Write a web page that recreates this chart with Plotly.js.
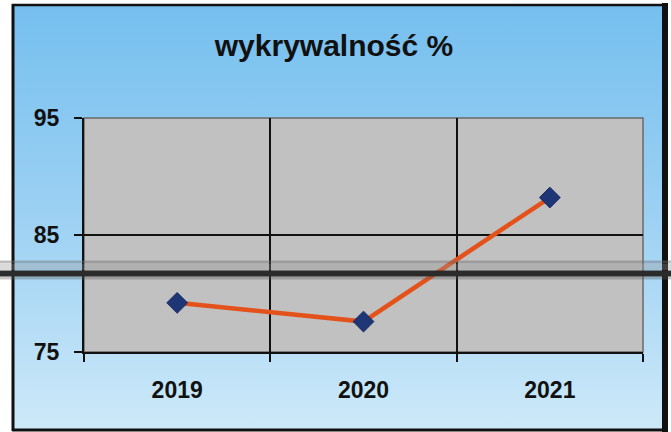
<!DOCTYPE html>
<html>
<head>
<meta charset="utf-8">
<script src="https://cdn.plot.ly/plotly-3.0.1.min.js"></script>
<style>html,body{margin:0;padding:0;background:#fff;}#chart{width:671px;height:432px;}</style>
</head>
<body>
<div id="chart"></div>
<script>
// Data
const years = ['2019', '2020', '2021'];
const detectionRate = [79.2, 77.6, 88.2];
const yTickVals = [75, 85, 95];
const chartTitle = 'wykrywalność %';

// pixel -> paper helpers (plot area: x 84..643, y 118..352)
const L = 84, R = 643, T = 118, B = 352;
const px = v => (v - L) / (R - L);
const py = v => (B - v) / (B - T);

const gradSvg = '<svg xmlns="http://www.w3.org/2000/svg" width="100" height="100" preserveAspectRatio="none">' +
  '<defs><linearGradient id="g" x1="0" y1="0" x2="0" y2="1">' +
  '<stop offset="0" stop-color="#75bfef"/><stop offset="0.5" stop-color="#9dd1f3"/><stop offset="1" stop-color="#cde9f9"/>' +
  '</linearGradient></defs><rect width="100" height="100" fill="url(#g)"/></svg>';
const gradUri = 'data:image/svg+xml;charset=utf-8,' + encodeURIComponent(gradSvg);

const trace = {
  type: 'scatter',
  mode: 'lines+markers',
  x: years,
  y: detectionRate,
  line: {color: '#e4521c', width: 4.5},
  marker: {symbol: 'diamond', size: 16, color: '#1f3676', line: {color: '#1a2d63', width: 1}},
  hoverinfo: 'x+y',
  showlegend: false
};

const tickFont = {family: '"Liberation Sans", Arial, sans-serif', size: 23, color: '#111', weight: 'bold'};

const layout = {
  width: 671,
  height: 432,
  margin: {l: L, r: 671 - R, t: T, b: 432 - B, pad: 0},
  paper_bgcolor: '#ffffff',
  plot_bgcolor: 'rgba(0,0,0,0)',
  title: {
    text: '<b>' + chartTitle + '</b>',
    font: {family: '"Liberation Sans", Arial, sans-serif', size: 30, color: '#111'},
    xref: 'container', yref: 'container',
    x: 334 / 671, y: 1 - 45 / 432, xanchor: 'center', yanchor: 'middle'
  },
  xaxis: {
    type: 'category',
    categoryorder: 'array',
    categoryarray: years,
    range: [-0.5, 2.5],
    tickson: 'boundaries',
    showgrid: true,
    gridcolor: '#111',
    gridwidth: 2,
    ticks: 'outside',
    ticklen: 8,
    tickwidth: 2,
    tickcolor: '#111',
    showline: true,
    linecolor: '#111',
    linewidth: 2,
    tickfont: tickFont,
    ticklabelstandoff: 16,
    zeroline: false,
    fixedrange: true
  },
  yaxis: {
    range: [75, 95],
    tickvals: yTickVals,
    ticktext: yTickVals.map(String),
    showgrid: true,
    gridcolor: '#111',
    gridwidth: 2,
    ticks: 'outside',
    ticklen: 8,
    tickwidth: 2,
    tickcolor: '#111',
    showline: true,
    linecolor: '#111',
    linewidth: 2,
    tickfont: tickFont,
    ticklabelstandoff: 10,
    zeroline: false,
    fixedrange: true
  },
  images: [{
    source: gradUri,
    xref: 'paper', yref: 'paper',
    x: px(13), y: py(5),
    sizex: px(665) - px(13), sizey: py(5) - py(430),
    xanchor: 'left', yanchor: 'top',
    sizing: 'stretch',
    layer: 'below'
  }],
  shapes: [
    // plot area
    {type: 'rect', xref: 'paper', yref: 'paper', x0: 0, x1: 1, y0: 0, y1: 1,
     fillcolor: '#c1c1c1', line: {color: '#6a6a6a', width: 1.5}, layer: 'below'},
    // outer frame
    {type: 'line', xref: 'paper', yref: 'paper', x0: px(13), x1: px(13), y0: py(4), y1: py(431), line: {color: '#111', width: 3}, layer: 'above'},
    {type: 'line', xref: 'paper', yref: 'paper', x0: px(12), x1: px(668), y0: py(5), y1: py(5), line: {color: '#111', width: 2.5}, layer: 'above'},
    {type: 'line', xref: 'paper', yref: 'paper', x0: px(665), x1: px(665), y0: py(3), y1: py(432), line: {color: '#111', width: 6}, layer: 'above'},
    {type: 'line', xref: 'paper', yref: 'paper', x0: px(12), x1: px(668), y0: py(430), y1: py(430), line: {color: '#111', width: 3}, layer: 'above'},
    // scan fold artifact
    {type: 'line', xref: 'paper', yref: 'paper', x0: px(0), x1: px(671), y0: py(262), y1: py(262), line: {color: 'rgba(110,110,110,0.45)', width: 3}, layer: 'above'},
    {type: 'line', xref: 'paper', yref: 'paper', x0: px(0), x1: px(671), y0: py(267), y1: py(267), line: {color: 'rgba(150,150,150,0.35)', width: 6}, layer: 'above'},
    {type: 'line', xref: 'paper', yref: 'paper', x0: px(0), x1: px(671), y0: py(273.5), y1: py(273.5), line: {color: '#2b2b2b', width: 6}, layer: 'above'},
    {type: 'line', xref: 'paper', yref: 'paper', x0: px(0), x1: px(671), y0: py(278), y1: py(278), line: {color: 'rgba(90,90,90,0.35)', width: 3}, layer: 'above'}
  ]
};

Plotly.newPlot('chart', [trace], layout, {displayModeBar: false, staticPlot: true});
</script>
</body>
</html>
